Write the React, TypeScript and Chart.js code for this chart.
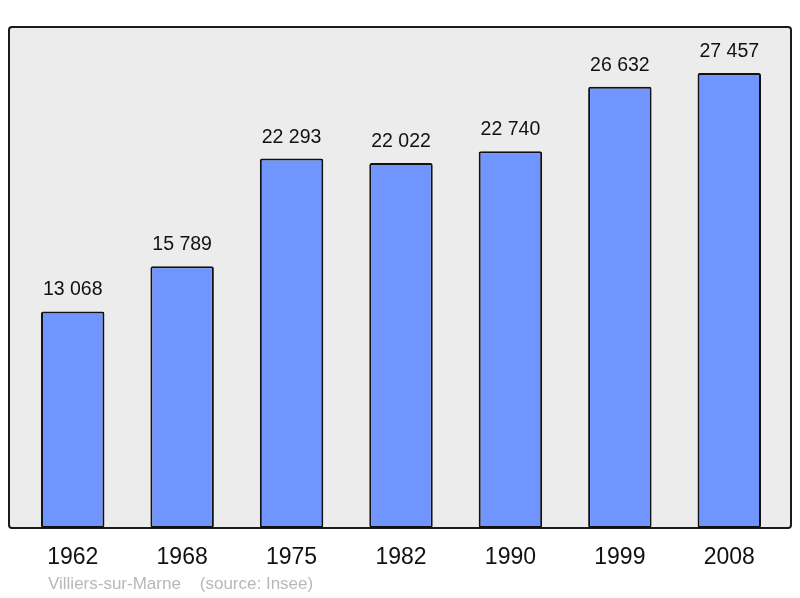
import React, { useEffect, useRef } from "react";
import { Chart, registerables } from "chart.js";

Chart.register(...registerables);

const years = ["1962", "1968", "1975", "1982", "1990", "1999", "2008"];
const population = [13068, 15789, 22293, 22022, 22740, 26632, 27457];
const footerText = "Villiers-sur-Marne    (source: Insee)";

const fmt = (v: number) => {
  const s = String(v);
  return s.replace(/\B(?=(\d{3})+(?!\d))/g, " ");
};

const boxPlugin = {
  id: "box",
  beforeDraw(chart: any) {
    const { ctx, chartArea } = chart;
    const l = chartArea.left - 9;
    const r = chartArea.right + 7;
    const t = chartArea.top;
    const b = chartArea.bottom;
    ctx.save();
    ctx.fillStyle = "#ececec";
    ctx.strokeStyle = "#1a1a1a";
    ctx.lineWidth = 2;
    ctx.beginPath();
    ctx.roundRect(l, t, r - l, b - t, 3);
    ctx.fill();
    ctx.stroke();
    ctx.restore();
  },
  afterDatasetsDraw(chart: any) {
    const { ctx, chartArea } = chart;
    const meta = chart.getDatasetMeta(0);
    ctx.save();
    ctx.fillStyle = "#111";
    ctx.font = "19.5px 'Liberation Sans', Arial, sans-serif";
    ctx.textAlign = "center";
    ctx.textBaseline = "alphabetic";
    meta.data.forEach((bar: any, i: number) => {
      ctx.fillText(fmt(population[i]), bar.x, bar.y - 16);
    });
    ctx.fillStyle = "#b8b8b8";
    ctx.font = "17px 'Liberation Sans', Arial, sans-serif";
    ctx.textAlign = "left";
    ctx.fillText(footerText, chartArea.left + 30, chartArea.bottom + 61);
    ctx.restore();
  },
};

export default function App() {
  const ref = useRef<HTMLCanvasElement>(null);
  useEffect(() => {
    document.body.style.margin = "0";
    const chart = new Chart(ref.current!, {
      type: "bar",
      data: {
        labels: years,
        datasets: [
          {
            data: population,
            backgroundColor: "#7095ff",
            borderColor: "#111",
            borderWidth: 2,
            borderRadius: 2,
            borderSkipped: false,
            categoryPercentage: 1,
            barPercentage: 0.58,
          },
        ],
      },
      options: {
        animation: false,
        responsive: false,
        layout: { padding: { left: 18, right: 16, top: 27, bottom: 0 } },
        plugins: {
          legend: { display: false },
          tooltip: { enabled: false },
          title: { display: false },
        },
        scales: {
          y: {
            display: false,
            min: 0,
            max: 30230,
          },
          x: {
            grid: { display: false, drawTicks: false },
            border: { display: false },
            ticks: {
              color: "#111",
              padding: 16,
              font: { size: 23, family: "'Liberation Sans', Arial, sans-serif" },
            },
            afterFit(scale: any) {
              scale.height = 70;
            },
          },
        },
      },
      plugins: [boxPlugin],
    });
    return () => chart.destroy();
  }, []);
  return (
    <div style={{ width: 800, height: 598 }}>
      <canvas ref={ref} width={800} height={598} />
    </div>
  );
}
